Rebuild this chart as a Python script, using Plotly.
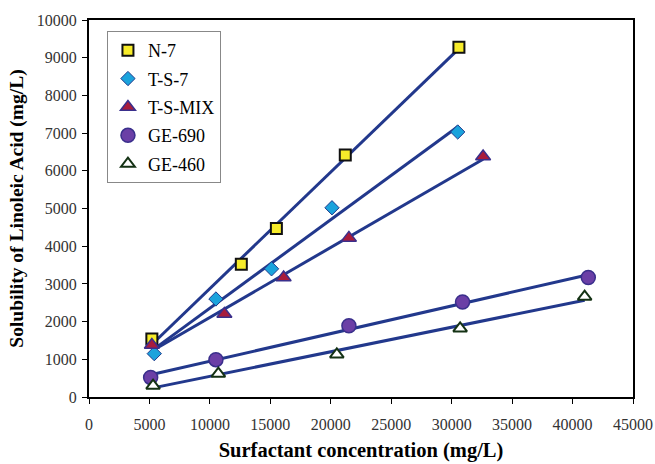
import numpy as np
import plotly.graph_objects as go

# Data
series_names = ["N-7", "T-S-7", "T-S-MIX", "GE-690", "GE-460"]
n7_x = [5200, 12600, 15500, 21200, 30600]
n7_y = [1540, 3520, 4470, 6420, 9280]
ts7_x = [5400, 10500, 15100, 20100, 30500]
ts7_y = [1150, 2600, 3400, 5020, 7030]
tsmix_x = [5200, 11200, 16100, 21500, 32600]
tsmix_y = [1380, 2200, 3170, 4220, 6380]
ge690_x = [5100, 10500, 21500, 30900, 41300]
ge690_y = [520, 990, 1890, 2520, 3170]
ge460_x = [5300, 10700, 20500, 30700, 41000]
ge460_y = [300, 620, 1130, 1820, 2660]
x_ticks = [0, 5000, 10000, 15000, 20000, 25000, 30000, 35000, 40000, 45000]
y_ticks = [0, 1000, 2000, 3000, 4000, 5000, 6000, 7000, 8000, 9000, 10000]

xs = [n7_x, ts7_x, tsmix_x, ge690_x, ge460_x]
ys = [n7_y, ts7_y, tsmix_y, ge690_y, ge460_y]

styles = [
    dict(symbol="square", color="#F7EC2A", size=11, line=dict(color="#111111", width=2)),
    dict(symbol="diamond", color="#1BA3DC", size=11, line=dict(color="#1F3A8C", width=1)),
    dict(symbol="triangle-up", color="#A81C3C", size=13, line=dict(color="#3A2F8C", width=1.5)),
    dict(symbol="circle", color="#6B3FA6", size=14, line=dict(color="#3A2F8C", width=1.5)),
    dict(symbol="triangle-up", color="#FFFFFF", size=12, line=dict(color="#143214", width=2)),
]
line_color = "#22388C"
font_family = "Liberation Serif"

fig = go.Figure()

# Regression lines
for x, y in zip(xs, ys):
    k, b = np.polyfit(x, y, 1)
    lx = [min(x), max(x)]
    ly = [k * v + b for v in lx]
    fig.add_trace(go.Scatter(x=lx, y=ly, mode="lines", showlegend=False,
                             line=dict(color=line_color, width=3), hoverinfo="skip"))

# Markers
for i, (name, x, y, st) in enumerate(zip(series_names, xs, ys, styles)):
    fig.add_trace(go.Scatter(x=x, y=y, mode="markers", name=name, legendgroup=name,
                             marker=st))

axis_common = dict(
    showline=True, linecolor="black", linewidth=2, mirror=True, automargin=False,
    showgrid=False, zeroline=False, ticks="outside", ticklen=5, tickcolor="black",
    tickfont=dict(family=font_family, size=16, color="#333333"),
)

fig.update_layout(
    width=655, height=464,
    margin=dict(l=89, r=22, t=20, b=67),
    paper_bgcolor="white", plot_bgcolor="white",
    font=dict(family=font_family, color="black"),
    xaxis=dict(range=[0, 45000], tickvals=x_ticks, ticktext=[str(v) for v in x_ticks],
               ticklabelstandoff=7,
               title=dict(text="<b>Surfactant concentration (mg/L)</b>",
                          font=dict(family=font_family, size=20.5), standoff=10),
               **axis_common),
    yaxis=dict(range=[0, 10000], tickvals=y_ticks, ticktext=[str(v) for v in y_ticks],
               ticklabelstandoff=2,
               title=dict(text="<b>Solubility of Linoleic Acid (mg/L)</b>",
                          font=dict(family=font_family, size=19.5), standoff=8),
               **axis_common),
    legend=dict(x=0.033, y=0.971, xanchor="left", yanchor="top",
                bgcolor="white", bordercolor="#888888", borderwidth=1,
                font=dict(family=font_family, size=18, color="black"),
                tracegroupgap=2, traceorder="grouped", itemwidth=30),
    showlegend=True,
)

fig.write_html("out.html",
               config={"displayModeBar": False},
               post_script="document.body.style.margin='0';document.body.style.overflow='hidden';")
